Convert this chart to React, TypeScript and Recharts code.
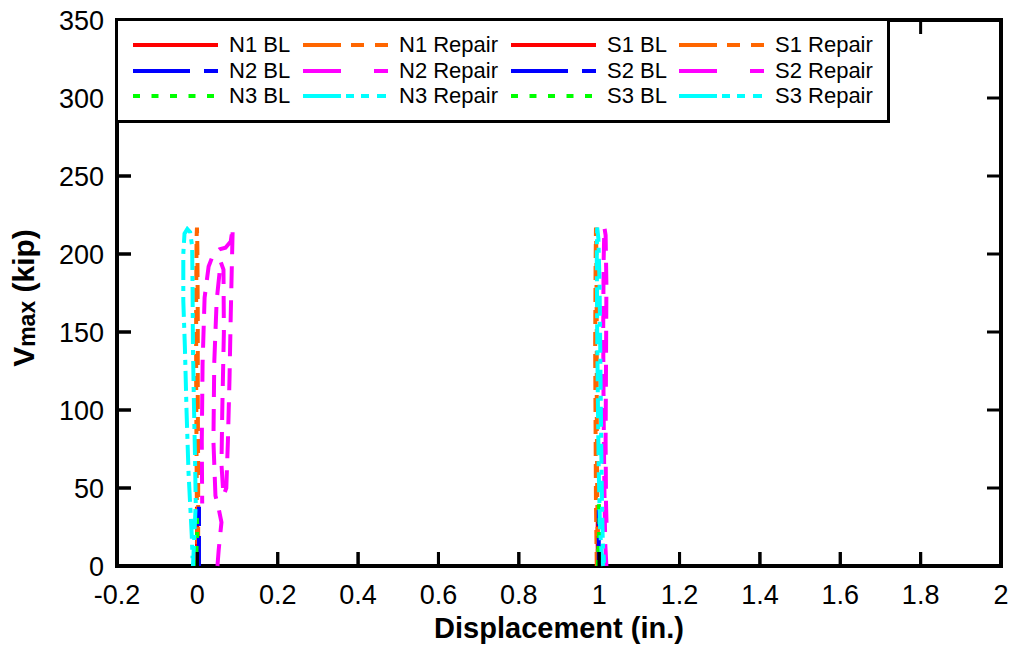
import React from "react";
import { LineChart, Line, XAxis, YAxis, Legend, ReferenceLine, ReferenceArea } from "recharts";

// Axis ticks
const xTicks = [-0.2, 0, 0.2, 0.4, 0.6, 0.8, 1, 1.2, 1.4, 1.6, 1.8, 2];
const yTicks = [0, 50, 100, 150, 200, 250, 300, 350];
const xDomain = [-0.2, 2];
const yDomain = [0, 350];

// [displacement (in.), Vmax (kip)] for each specimen run
const n1BL = [[0.0, 0], [-0.001, 15], [0.0, 30], [-0.001, 38]];
const n1Repair = [
  [0.001, 0], [-0.001, 30], [-0.002, 70], [-0.003, 120], [-0.003, 170], [-0.002, 210],
  [-0.001, 217], [0.0, 205], [0.001, 160], [0.001, 110], [0.002, 60], [0.002, 0],
];
const n2BL = [[0.004, 0], [0.004, 20], [0.004, 38]];
const n2Repair = [
  [0.05, 0], [0.053, 10], [0.056, 18], [0.06, 28], [0.052, 38], [0.045, 45], [0.04, 80],
  [0.042, 130], [0.048, 170], [0.058, 195], [0.065, 190], [0.066, 150], [0.062, 100],
  [0.06, 65], [0.065, 45], [0.072, 50], [0.076, 80], [0.08, 120], [0.083, 160],
  [0.086, 195], [0.088, 217], [0.083, 208], [0.07, 204], [0.055, 203], [0.04, 200],
  [0.028, 192], [0.018, 172], [0.013, 130], [0.011, 80], [0.012, 40],
];
const n3BL = [[-0.003, 0], [-0.002, 12], [0.0, 24], [-0.002, 36]];
const n3Repair = [
  [-0.011, 0], [-0.01, 5], [-0.004, 40], [-0.006, 72], [-0.009, 110], [-0.011, 140],
  [-0.012, 180], [-0.013, 205], [-0.018, 214], [-0.025, 216], [-0.032, 213], [-0.035, 200],
  [-0.035, 170], [-0.031, 140], [-0.027, 100], [-0.022, 60], [-0.018, 40], [-0.014, 20],
  [-0.012, 5],
];
const s1BL = [[0.997, 0], [0.996, 20], [0.997, 38]];
const s1Repair = [
  [0.994, 0], [0.992, 40], [0.991, 90], [0.99, 140], [0.991, 190], [0.992, 217],
  [0.993, 200], [0.994, 150], [0.994, 100], [0.995, 50], [0.997, 0],
];
const s2BL = [[0.999, 0], [0.999, 20], [0.999, 36]];
const s2Repair = [
  [1.018, 0], [1.015, 15], [1.013, 50], [1.011, 100], [1.01, 150], [1.011, 195],
  [1.013, 217], [1.016, 212], [1.018, 180], [1.017, 130], [1.016, 80], [1.017, 40],
  [1.019, 20],
];
const s3BL = [[0.997, 0], [0.998, 10], [1.0, 22], [1.001, 32], [0.999, 40]];
const s3Repair = [
  [1.01, 0], [1.006, 8], [1.002, 25], [0.999, 60], [0.997, 100], [0.995, 150],
  [0.994, 200], [0.995, 217], [0.998, 210], [1.001, 180], [1.003, 130], [1.005, 80],
  [1.007, 40], [1.009, 15], [1.012, 2],
];

const RED = "#ff0000";
const ORANGE = "#ff6600";
const BLUE = "#0000ff";
const MAGENTA = "#ff00ff";
const GREEN = "#00ff00";
const CYAN = "#00ffff";

type SeriesDef = {
  name: string;
  points: number[][];
  color: string;
  dash?: string;
  legendDash?: string;
};

const series: SeriesDef[] = [
  { name: "N1 BL", points: n1BL, color: RED },
  { name: "N1 Repair", points: n1Repair, color: ORANGE, dash: "14 8", legendDash: "38 10 13 11 13" },
  { name: "N2 BL", points: n2BL, color: BLUE, dash: "30 10", legendDash: "57 14 14" },
  { name: "N2 Repair", points: n2Repair, color: MAGENTA, dash: "22 12", legendDash: "38 33 14" },
  { name: "N3 BL", points: n3BL, color: GREEN, dash: "6 8", legendDash: "7 11.5" },
  { name: "N3 Repair", points: n3Repair, color: CYAN, dash: "20 6 5 6", legendDash: "38 5 8 7 8 8 9" },
  { name: "S1 BL", points: s1BL, color: RED },
  { name: "S1 Repair", points: s1Repair, color: ORANGE, dash: "14 8", legendDash: "38 10 13 11 13" },
  { name: "S2 BL", points: s2BL, color: BLUE, dash: "30 10", legendDash: "57 14 14" },
  { name: "S2 Repair", points: s2Repair, color: MAGENTA, dash: "22 12", legendDash: "38 33 14" },
  { name: "S3 BL", points: s3BL, color: GREEN, dash: "6 8", legendDash: "7 11.5" },
  { name: "S3 Repair", points: s3Repair, color: CYAN, dash: "20 6 5 6", legendDash: "38 5 8 7 8 8 9" },
];

const FONT = '"Liberation Sans", Arial, Helvetica, sans-serif';

// legend grid: columns are (N BL, N Repair, S BL, S Repair), rows are specimen 1..3
const legendCols = [18, 188, 396, 564];
const legendRows = [27, 53, 78];

function LegendBox() {
  const order = [
    ["N1 BL", "N1 Repair", "S1 BL", "S1 Repair"],
    ["N2 BL", "N2 Repair", "S2 BL", "S2 Repair"],
    ["N3 BL", "N3 Repair", "S3 BL", "S3 Repair"],
  ];
  return (
    <div
      style={{
        position: "relative",
        width: 775,
        height: 105,
        boxSizing: "border-box",
        border: "3px solid #000",
        background: "#fff",
        fontFamily: FONT,
      }}
    >
      {order.map((row, r) =>
        row.map((name, c) => {
          const s = series.find((d) => d.name === name)!;
          return (
            <div
              key={name}
              style={{
                position: "absolute",
                left: legendCols[c] - 3,
                top: legendRows[r] - 3 - 14,
                height: 28,
                display: "flex",
                alignItems: "center",
                whiteSpace: "nowrap",
              }}
            >
              <svg width={85} height={8} style={{ display: "block" }}>
                <line
                  x1={0}
                  y1={4}
                  x2={85}
                  y2={4}
                  stroke={s.color}
                  strokeWidth={4}
                  strokeDasharray={s.legendDash}
                />
              </svg>
              <span style={{ marginLeft: 11, fontSize: 22, color: "#000", lineHeight: "28px" }}>
                {name}
              </span>
            </div>
          );
        })
      )}
    </div>
  );
}

function YTitle(props: any) {
  const vb = props.viewBox || { x: 0, y: 20, width: 117, height: 546 };
  const cx = 34;
  const cy = vb.y + vb.height / 2 + 5;
  return (
    <text
      x={cx}
      y={cy}
      transform={`rotate(-90, ${cx}, ${cy})`}
      textAnchor="middle"
      fontFamily={FONT}
      fontWeight="bold"
      fontSize={30}
      fill="#000"
    >
      <tspan>V</tspan>
      <tspan fontSize={23} dy={1}>max</tspan>
      <tspan dy={-1}> (kip)</tspan>
    </text>
  );
}

function XTitle(props: any) {
  const vb = props.viewBox || { x: 117, y: 566, width: 884, height: 82 };
  return (
    <text
      x={vb.x + vb.width / 2}
      y={vb.y + 72}
      textAnchor="middle"
      fontFamily={FONT}
      fontWeight="bold"
      fontSize={29}
      fill="#000"
    >
      Displacement (in.)
    </text>
  );
}

// short inward tick marks at both ends of a full-height / full-width reference line
const TICK_LEN = 14;
function InwardTicks(props: any) {
  const { x1, y1, x2, y2 } = props;
  if (Math.abs(x1 - x2) < 0.5) {
    const top = Math.min(y1, y2);
    const bottom = Math.max(y1, y2);
    return (
      <g>
        <line x1={x1} y1={bottom} x2={x1} y2={bottom - TICK_LEN} stroke="#000" strokeWidth={3} />
        <line x1={x1} y1={top} x2={x1} y2={top + TICK_LEN} stroke="#000" strokeWidth={3} />
      </g>
    );
  }
  const left = Math.min(x1, x2);
  const right = Math.max(x1, x2);
  return (
    <g>
      <line x1={left} y1={y1} x2={left + TICK_LEN} y2={y1} stroke="#000" strokeWidth={3} />
      <line x1={right} y1={y1} x2={right - TICK_LEN} y2={y1} stroke="#000" strokeWidth={3} />
    </g>
  );
}

// tick mark glyph placed at a scaled point on the frame, pointing into the plot
function TickMark(props: any) {
  const { cx, cy, dir } = props;
  if (cx == null || cy == null) return null;
  const dx = dir === "right" ? TICK_LEN : dir === "left" ? -TICK_LEN : 0;
  const dy = dir === "up" ? -TICK_LEN : dir === "down" ? TICK_LEN : 0;
  return <line x1={cx} y1={cy} x2={cx + dx} y2={cy + dy} stroke="#000" strokeWidth={3} />;
}

// points on the frame where the tick marks sit
const bottomTickPts = xTicks.map((v) => ({ x: v, y: yDomain[0] }));
const leftTickPts = yTicks.map((v) => ({ x: xDomain[0], y: v }));

const tickStyle = { fill: "#000", fontSize: 27, fontFamily: FONT };

export default function App() {
  return (
    <div style={{ position: "absolute", left: 0, top: 0, width: 1014, height: 648 }}>
      <LineChart
        width={1014}
        height={648}
        margin={{ top: 20, right: 13, bottom: 0, left: 0 }}
      >
        <XAxis
          dataKey="x"
          type="number"
          domain={xDomain}
          ticks={xTicks}
          tickFormatter={(v: number) => String(v)}
          height={82}
          tickSize={0}
          tickMargin={19}
          axisLine={false}
          tickLine={false}
          tick={tickStyle}
          interval={0}
          label={<XTitle />}
        />
        <YAxis
          type="number"
          domain={yDomain}
          ticks={yTicks}
          width={117}
          tickSize={0}
          tickMargin={13}
          axisLine={false}
          tickLine={false}
          tick={tickStyle}
          interval={0}
          label={<YTitle />}
        />
        {series.map((s) => (
          <Line
            key={s.name}
            name={s.name}
            data={s.points.map(([x, y]) => ({ x, y }))}
            dataKey="y"
            type="linear"
            stroke={s.color}
            strokeWidth={4}
            strokeDasharray={s.dash}
            dot={false}
            activeDot={false}
            isAnimationActive={false}
          />
        ))}
        <Line
          data={bottomTickPts}
          dataKey="y"
          stroke="none"
          legendType="none"
          dot={<TickMark dir="up" />}
          activeDot={false}
          isAnimationActive={false}
        />
        <Line
          data={leftTickPts}
          dataKey="y"
          stroke="none"
          legendType="none"
          dot={<TickMark dir="right" />}
          activeDot={false}
          isAnimationActive={false}
        />
        {xTicks.map((v) => (
          <ReferenceLine key={`xt${v}`} x={v} shape={<InwardTicks />} />
        ))}
        {yTicks.map((v) => (
          <ReferenceLine key={`yt${v}`} y={v} shape={<InwardTicks />} />
        ))}
        <ReferenceArea
          x1={xDomain[0]}
          x2={xDomain[1]}
          y1={yDomain[0]}
          y2={yDomain[1]}
          fill="none"
          stroke="#000"
          strokeWidth={4}
        />
        <Legend
          layout="vertical"
          align="center"
          verticalAlign="middle"
          wrapperStyle={{ position: "absolute", left: 115, top: 18, width: 775, height: 105 }}
          content={() => <LegendBox />}
        />
      </LineChart>
    </div>
  );
}
